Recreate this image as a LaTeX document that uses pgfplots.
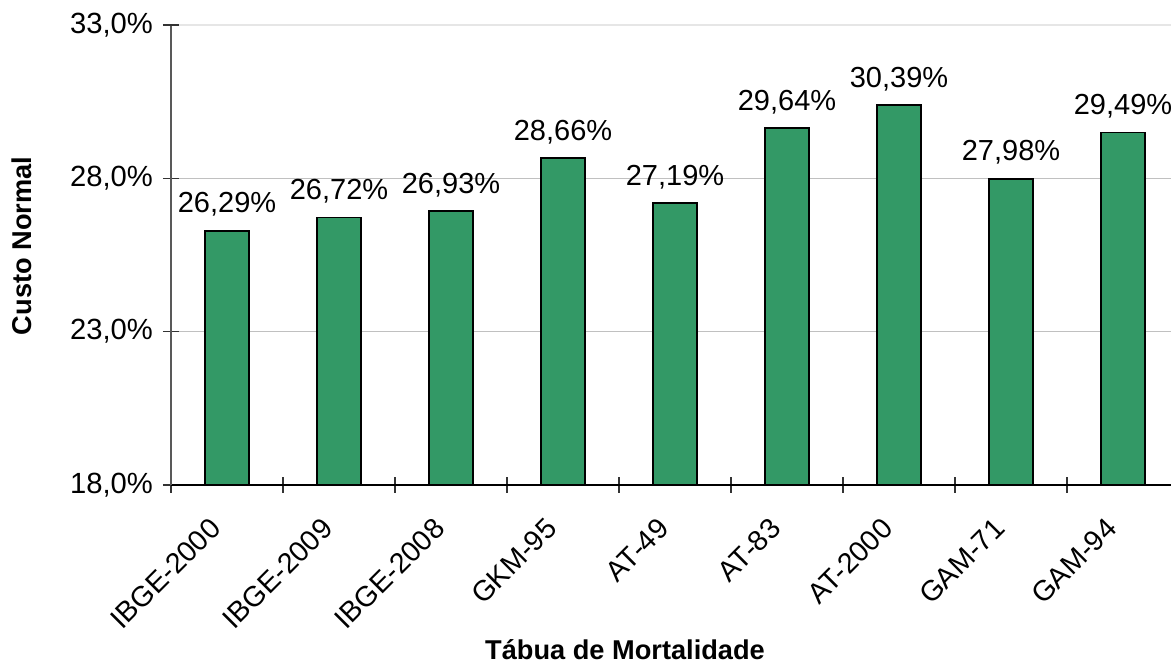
\documentclass[border=0pt]{standalone}
\usepackage{pgfplots}
\pgfplotsset{compat=1.18}
\usepackage{fontspec}
\setmainfont{Liberation Sans}
\definecolor{bargreen}{HTML}{339966}
\definecolor{gridgray}{HTML}{C0C0C0}
\definecolor{topgrid}{HTML}{E6E6E6}
\begin{document}
\begin{tikzpicture}
\begin{axis}[
  at={(0,0)}, anchor=south west,
  scale only axis,
  width=504pt, height=230pt,
  xmin=-0.5, xmax=8.5,
  ymin=18, ymax=33,
  ytick={18,23,28},
  extra y ticks={33},
  extra y tick style={grid style={topgrid, line width=0.8pt}},
  xtick={0,...,8},
  xticklabels={IBGE-2000,IBGE-2009,IBGE-2008,GKM-95,AT-49,AT-83,AT-2000,GAM-71,GAM-94},
  minor xtick={-0.5,0.5,...,8.5},
  major x tick style={draw=none},
  tick align=center,
  major tick length=8pt,
  minor tick length=8pt,
  tick style={black!80, line width=0.6pt},
  axis x line*=bottom,
  axis y line*=left,
  axis line style={line width=0.6pt},
  x axis line style={-, black},
  y axis line style={-, black!65},
  ymajorgrids,
  grid style={gridgray, line width=0.5pt},
  /pgf/number format/assume math mode=true,
  yticklabel={\pgfmathprintnumber[fixed,fixed zerofill,precision=1,use comma]{\tick}\%},
  yticklabel style={font=\fontsize{14.6}{16}\selectfont, xshift=-1.5pt},
  xticklabel style={font=\fontsize{14.3}{16}\selectfont, rotate=45, anchor=north east, xshift=-11.4pt, yshift=1.9pt},
  ylabel={\textbf{Custo Normal}},
  ylabel style={at={(rel axis cs:0,0.5)}, anchor=center, yshift=74.5pt, xshift=4.5pt, font=\fontsize{13.6}{16}\selectfont},
  xlabel={\textbf{Tábua de Mortalidade}},
  xlabel style={at={(rel axis cs:0,0)}, anchor=base, xshift=227pt, yshift=-87pt, font=\fontsize{13.6}{16}\selectfont},
  clip=false,
]
\addplot[ybar, bar width=22pt, fill=bargreen, draw=black, line width=0.8pt,
  nodes near coords={\pgfmathprintnumber[fixed,fixed zerofill,precision=2,use comma]{\pgfplotspointmeta}\%},
  every node near coord/.style={anchor=base, yshift=9pt, font=\fontsize{14.5}{16}\selectfont, black},
] coordinates {
  (0,26.29) (1,26.72) (2,26.93) (3,28.66) (4,27.19) (5,29.64) (6,30.39) (7,27.98) (8,29.49)
};
\end{axis}
\pgfresetboundingbox
\path[use as bounding box] (-85.5pt,-88.5pt) rectangle (500pt,242.5pt);
\end{tikzpicture}
\end{document}
